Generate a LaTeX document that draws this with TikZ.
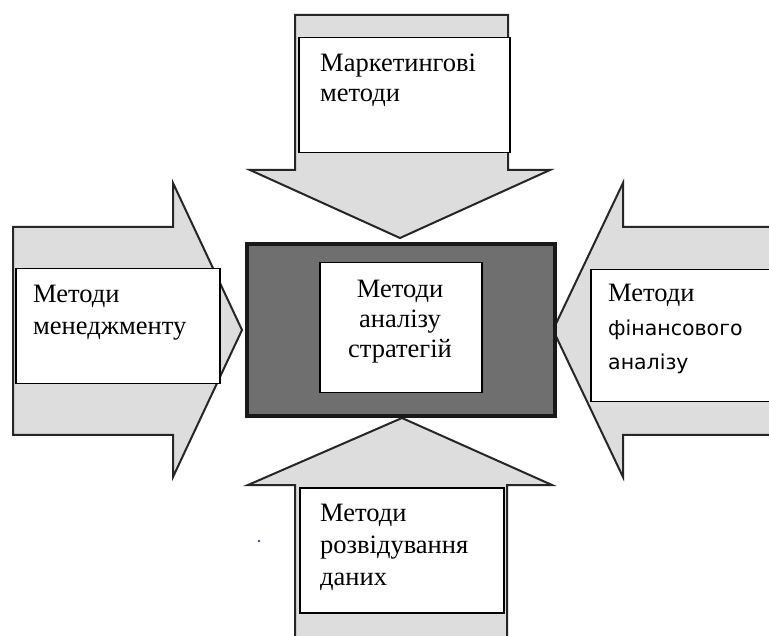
\documentclass[tikz,border=0pt]{standalone}
\usepackage{fontspec}
\setmainfont{Liberation Serif}
\newfontfamily\sansfont{DejaVu Sans}
\usepackage{tikz}
\usetikzlibrary{positioning}
\definecolor{arrowgray}{HTML}{DDDDDD}
\definecolor{coregray}{HTML}{6F6F6F}
\definecolor{edgegray}{HTML}{262626}
\def\drawfat{\draw[draw=edgegray, fill=arrowgray, line width=2pt, line join=miter]}
\def\boxnode{\node[draw=black, fill=white, line width=1.5pt, anchor=north west, inner sep=0pt]}
\def\textnode{\node[anchor=base west, align=left, inner sep=0pt, font=\fontsize{26.5}{32}\selectfont]}

\begin{document}
\begin{tikzpicture}[x=1pt,y=-1pt]
\useasboundingbox (0,0) rectangle (769,636);
\fill[white] (0,0) rectangle (769,636);

% ---------- the four fat arrows
\drawfat (295,15) -- (508,15) -- (508,170) -- (550,170) -- (400,238)
  -- (250,170) -- (295,170) -- cycle; % top, pointing down
\drawfat (13,227) -- (173,227) -- (173,183) -- (242,330) -- (173,477)
  -- (173,435) -- (13,435) -- cycle; % left, pointing right
\drawfat (790,227) -- (623,227) -- (623,183) -- (553,330) -- (623,477)
  -- (623,435) -- (790,435) -- cycle; % right, pointing left
\drawfat (295,660) -- (295,485) -- (248,485) -- (402,418) -- (552,485)
  -- (507,485) -- (507,660) -- cycle; % bottom, pointing up

% ---------- the core in the middle
\node[draw=black!90, fill=coregray, line width=4pt, inner sep=0pt,
  minimum width=308, minimum height=172, anchor=north west] (core) at (245,242) {};
\boxnode[minimum width=162, minimum height=130] (corebox) at (319,262) {};
% base of a multi-line node = baseline of its last line
\node[anchor=base, align=center, inner sep=0pt, font=\fontsize{26.5}{30}\selectfont]
  (coretext) at (400,358) {Методи\\аналізу\\стратегій};

% ---------- white boxes on the arrows
\boxnode[minimum width=211, minimum height=115] (markbox) at (298,37) {};
\textnode[font=\fontsize{26.5}{30}\selectfont] (marktext) at (320,102) {Маркетингові\\методи};

\boxnode[minimum width=204, minimum height=115] (mgmtbox) at (15,268) {};
\textnode (mgmttext) at (33,335) {Методи\\менеджменту};

\boxnode[minimum width=210, minimum height=132] (finbox) at (590,269) {};
\node[anchor=base west, align=left, inner sep=0pt, font=\fontsize{26.5}{34}\selectfont]
  (fintext) at (608,370) {Методи\\{\sansfont\fontsize{20.5}{34}\selectfont фінансового}\\{\sansfont\fontsize{20.5}{33}\selectfont аналізу}};

\boxnode[minimum width=204, minimum height=125] (databox) at (299,487) {};
\textnode (datatext) at (320,585) {Методи\\розвідування\\даних};

% stray dot
\fill[blue!80] (259,541) circle (1.3);
\end{tikzpicture}
\end{document}
